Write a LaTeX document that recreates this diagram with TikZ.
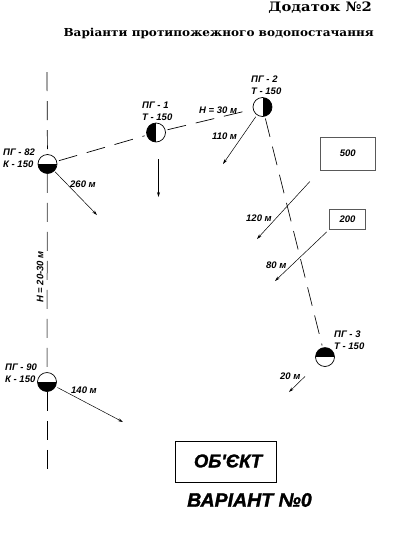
\documentclass[tikz,border=0pt]{standalone}
\usepackage{fontspec}
\setmainfont{Liberation Sans}
\newfontfamily\serifbold{DejaVu Serif}[BoldFont={DejaVu Serif Bold}]
\newfontfamily\heavy{Liberation Sans}[BoldItalicFeatures={FakeBold=1.5}]
\usetikzlibrary{arrows.meta}
\tikzset{
  lbl/.style={font=\bfseries\itshape\fontsize{9.5}{10}\selectfont,inner sep=0pt,anchor=west},
  lblc/.style={font=\bfseries\itshape\fontsize{9.5}{10}\selectfont,inner sep=0pt},
  big/.style={font=\heavy\bfseries\itshape\fontsize{18.5}{19}\selectfont,inner sep=0pt},
  ttl/.style={font=\serifbold\bfseries\fontsize{11}{12}\selectfont,inner sep=0pt,xscale=1.095},
  box/.style={draw=black!65,line width=0.8pt,fill=white,inner sep=0pt,minimum width=#1},
  pipe/.style={line width=0.7pt,dash pattern=on 19pt off 10pt},
  pipeg/.style={pipe,draw=black!55,line width=1pt},
  feed/.style={line width=0.5pt,-{Stealth[length=5pt,width=3pt]}},
  hyd/.style={circle,draw,line width=0.7pt,fill=white,minimum size=19pt,inner sep=0pt},
  fillS/.style={hyd,path picture={\fill[black] (path picture bounding box.west) rectangle (path picture bounding box.south east);}},
  fillN/.style={hyd,path picture={\fill[black] (path picture bounding box.west) rectangle (path picture bounding box.north east);}},
  fillW/.style={hyd,path picture={\fill[black] (path picture bounding box.north) rectangle (path picture bounding box.south west);}},
  fillE/.style={hyd,path picture={\fill[black] (path picture bounding box.north) rectangle (path picture bounding box.south east);}},
}
\begin{document}
\begin{tikzpicture}[x=1pt,y=-1pt]
\useasboundingbox (0,0) rectangle (413,550);
\node[ttl,anchor=east,xscale=1.035] (tA) at (372,8) {\fontsize{13}{14}\selectfont Додаток №2};
\node[ttl,anchor=east] (tB) at (374,33) {Варіанти протипожежного водопостачання};

\node[fillS] (p82) at (47.5,164) {};
\node[fillW] (p1) at (156,132.5) {};
\node[fillE] (p2) at (262.5,107) {};
\node[fillN] (p3) at (325,357) {};
\node[fillS] (p90) at (47,382) {};

\coordinate (vtop) at (47,72);
\coordinate (vbot) at (47,477);

\draw[pipe] (vtop) -- (p82);
\draw[pipeg] (p82) -- (p90);
\draw[pipe] (p90) -- (vbot);
\draw[pipe,shorten <=2pt,shorten >=2pt] (p82) -- (p1);
\draw[pipe,shorten <=2pt,shorten >=2pt] (p1) -- (p2);
\draw[pipe,shorten <=2pt,shorten >=2pt] (p2) -- (p3);

\node[box=54.5pt,minimum height=33pt] (b500) at (347.7,153.5) {};
\node[box=35.5pt,minimum height=20pt] (b200) at (347.5,219) {};
\node[box=101pt,minimum height=41pt,draw=black,line width=0.6pt] (obj) at (225.5,461.5) {};
\node[lblc] (t500) at (b500) {500};
\node[lblc] (t200) at (b200) {200};
\node[big] (tobj) at (228,461) {ОБ'ЄКТ};
\node[big,font=\heavy\bfseries\itshape\fontsize{19.5}{20}\selectfont] (tvar) at (249.5,500) {ВАРІАНТ №0};

\coordinate (e260) at (97,215);
\coordinate (e1) at (158.5,197);
\coordinate (e110) at (223,164);
\coordinate (e120) at (257,239);
\coordinate (e80) at (275,281);
\coordinate (e20) at (289,392);
\coordinate (e140) at (123,422);
\draw[feed,shorten <=1pt] (p82) -- (e260);
\draw[feed,shorten <=17pt] (e1 |- p1.south) -- (e1);
\draw[feed,shorten <=2pt] (p2) -- (e110);
\draw[feed,shorten <=15pt] (b500.south west) -- (e120);
\draw[feed,shorten <=3.5pt] (b200.south west) -- (e80);
\draw[feed,shorten <=18pt] (p3) -- (e20);
\draw[feed,shorten <=2pt] (p90) -- (e140);

\node[lbl] (l82a) at (3,152) {ПГ - 82};
\node[lbl] (l82b) at (3,164) {К - 150};
\node[lbl] (l1a) at (142,105) {ПГ - 1};
\node[lbl] (l1b) at (142,117.5) {Т - 150};
\node[lbl] (l2a) at (251,79) {ПГ - 2};
\node[lbl] (l2b) at (251,91) {Т - 150};
\node[lbl] (l3a) at (334,334) {ПГ - 3};
\node[lbl] (l3b) at (334,346) {Т - 150};
\node[lbl] (l90a) at (5,367) {ПГ - 90};
\node[lbl] (l90b) at (5,379) {К - 150};
\node[lbl] (lh30) at (199,110.5) {Н = 30 м};
\node[lbl] (l110) at (212,136) {110 м};
\node[lbl] (l260) at (70,184) {260 м};
\node[lbl] (l120) at (246,218) {120 м};
\node[lbl] (l80) at (266,265) {80 м};
\node[lbl] (l20) at (280,376) {20 м};
\node[lbl] (l140) at (71,390) {140 м};
\node[lblc,rotate=90] (lh) at (40,277) {Н = 20-30 м};
\end{tikzpicture}
\end{document}
